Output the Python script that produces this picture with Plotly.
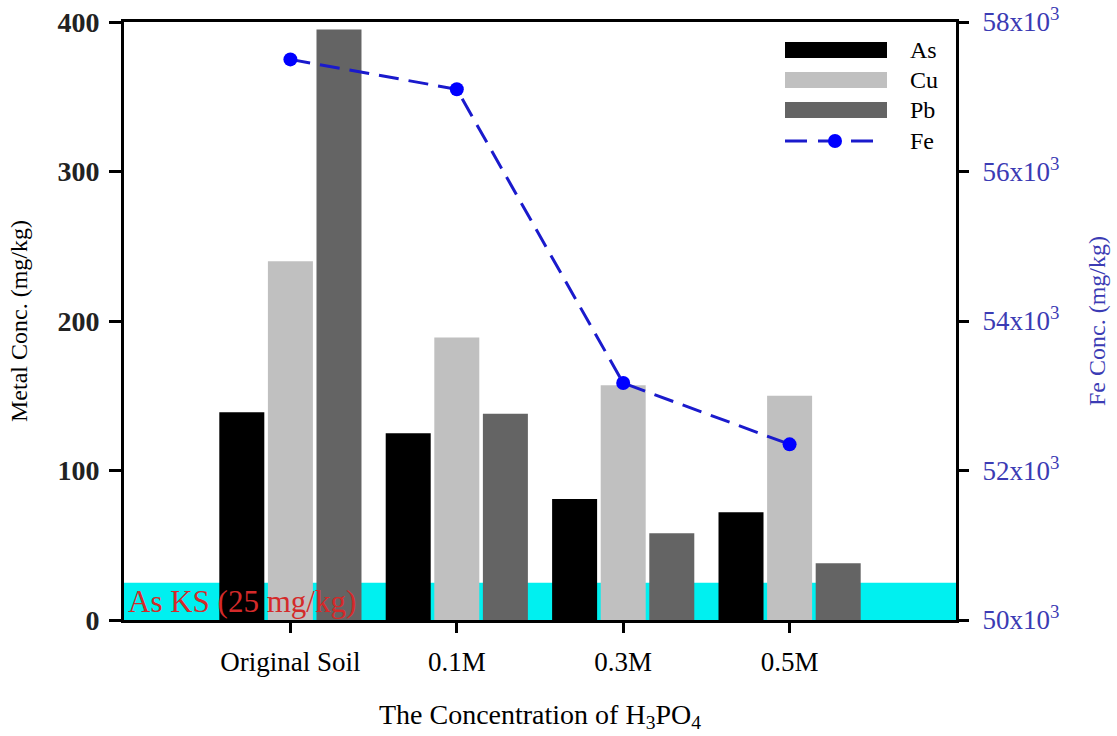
import plotly.graph_objects as go

# Sample groups along the x axis
categories = ["Original Soil", "0.1M", "0.3M", "0.5M"]
cat_pos = [0, 1, 2, 3]

# Metal concentrations (mg/kg), left axis
as_conc = [139, 125, 81, 72]
cu_conc = [240, 189, 157, 150]
pb_conc = [395, 138, 58, 38]

# Fe concentration (mg/kg), right axis
fe_conc = [57500, 57100, 53170, 52350]

# Korean standard for As (mg/kg)
as_ks = 25

fe_ticks = [50000, 52000, 54000, 56000, 58000]
fe_ticktext = ["50x10<sup>3</sup>", "52x10<sup>3</sup>", "54x10<sup>3</sup>",
               "56x10<sup>3</sup>", "58x10<sup>3</sup>"]

SERIF = "Liberation Serif"
FE_BLUE = "#1a1acc"
AX_BLUE = "#3b3bb4"

fig = go.Figure()

fig.add_trace(go.Bar(x=cat_pos, y=as_conc, name="As", marker=dict(color="#000000", line=dict(width=0))))
fig.add_trace(go.Bar(x=cat_pos, y=cu_conc, name="Cu", marker=dict(color="#c0c0c0", line=dict(width=0))))
fig.add_trace(go.Bar(x=cat_pos, y=pb_conc, name="Pb", marker=dict(color="#646464", line=dict(width=0))))
fig.add_trace(go.Scatter(
    x=cat_pos, y=fe_conc, name="Fe", yaxis="y2", mode="lines+markers",
    line=dict(color=FE_BLUE, width=3, dash="20px,10px"),
    marker=dict(color="#0000ff", size=14),
))

# As standard band
fig.add_shape(type="rect", xref="paper", yref="y", x0=0, x1=1, y0=0, y1=as_ks,
              fillcolor="#00f0f0", line=dict(width=0), layer="below")
fig.add_annotation(xref="paper", yref="y", x=0.003, y=as_ks / 2, xanchor="left", yanchor="middle",
                   text="As KS (25 mg/kg)", showarrow=False,
                   font=dict(family=SERIF, size=31, color="#d42a2a"))

# Legend drawn with shapes and labels
W, H = 832.0, 598.0
def px(x):
    return (x - 124) / W
def py(y):
    return (620 - y) / H

legend_rows = [("As", "#000000", 50), ("Cu", "#c0c0c0", 80), ("Pb", "#646464", 110)]
for name, col, yc in legend_rows:
    fig.add_shape(type="rect", xref="paper", yref="paper", x0=px(785), x1=px(887),
                  y0=py(yc + 8), y1=py(yc - 8), fillcolor=col, line=dict(width=0))
    fig.add_annotation(xref="paper", yref="paper", x=px(908), y=py(yc), xanchor="left",
                       yanchor="middle", text=name, showarrow=False,
                       font=dict(family=SERIF, size=24, color="#000000"))
fig.add_shape(type="line", xref="paper", yref="paper", x0=px(785), x1=px(878),
              y0=py(141), y1=py(141), line=dict(color=FE_BLUE, width=3, dash="22px,11px"))
fig.add_shape(type="circle", xref="paper", yref="paper", x0=px(828), x1=px(842),
              y0=py(148), y1=py(134), fillcolor="#0000ff", line=dict(width=0))
fig.add_annotation(xref="paper", yref="paper", x=px(908), y=py(141), xanchor="left",
                   yanchor="middle", text="Fe", showarrow=False,
                   font=dict(family=SERIF, size=24, color="#000000"))

fig.update_layout(
    width=1117, height=736,
    margin=dict(l=124, r=161, t=22, b=116),
    paper_bgcolor="white", plot_bgcolor="white",
    barmode="group", bargap=0.124, bargroupgap=0.074,
    showlegend=False,
    font=dict(family=SERIF, color="#000000"),
    xaxis=dict(
        range=[-1, 4], tickvals=cat_pos, ticktext=categories, automargin=False,
        showline=True, linecolor="#000000", linewidth=3, mirror=True,
        ticks="outside", ticklen=10, tickwidth=3, tickcolor="#000000",
        showgrid=False, zeroline=False, ticklabelstandoff=6,
        tickfont=dict(family=SERIF, size=27, color="#000000"),
        title=dict(text="The Concentration of H<sub>3</sub>PO<sub>4</sub>",
                   font=dict(family=SERIF, size=28, color="#000000"), standoff=28),
    ),
    yaxis=dict(
        range=[0, 400], tickvals=[0, 100, 200, 300, 400], automargin=False,
        showline=True, linecolor="#000000", linewidth=3,
        ticks="outside", ticklen=12, tickwidth=3, tickcolor="#000000",
        showgrid=False, zeroline=False, ticklabelstandoff=4,
        tickfont=dict(family=SERIF, size=28, color="#222222", weight="bold"),
        title=dict(text="Metal Conc. (mg/kg)", font=dict(family=SERIF, size=24, color="#000000"),
                   standoff=24),
    ),
    yaxis2=dict(
        range=[50000, 58000], tickvals=fe_ticks, ticktext=fe_ticktext,
        overlaying="y", side="right", automargin=False,
        showline=True, linecolor="#000000", linewidth=3,
        ticks="outside", ticklen=10, tickwidth=3, tickcolor="#000000",
        showgrid=False, zeroline=False, ticklabelstandoff=8,
        tickfont=dict(family=SERIF, size=27, color=AX_BLUE),
        title=dict(text="Fe Conc. (mg/kg)", font=dict(family=SERIF, size=24, color=AX_BLUE),
                   standoff=30),
    ),
)

fig.write_html("out.html")
